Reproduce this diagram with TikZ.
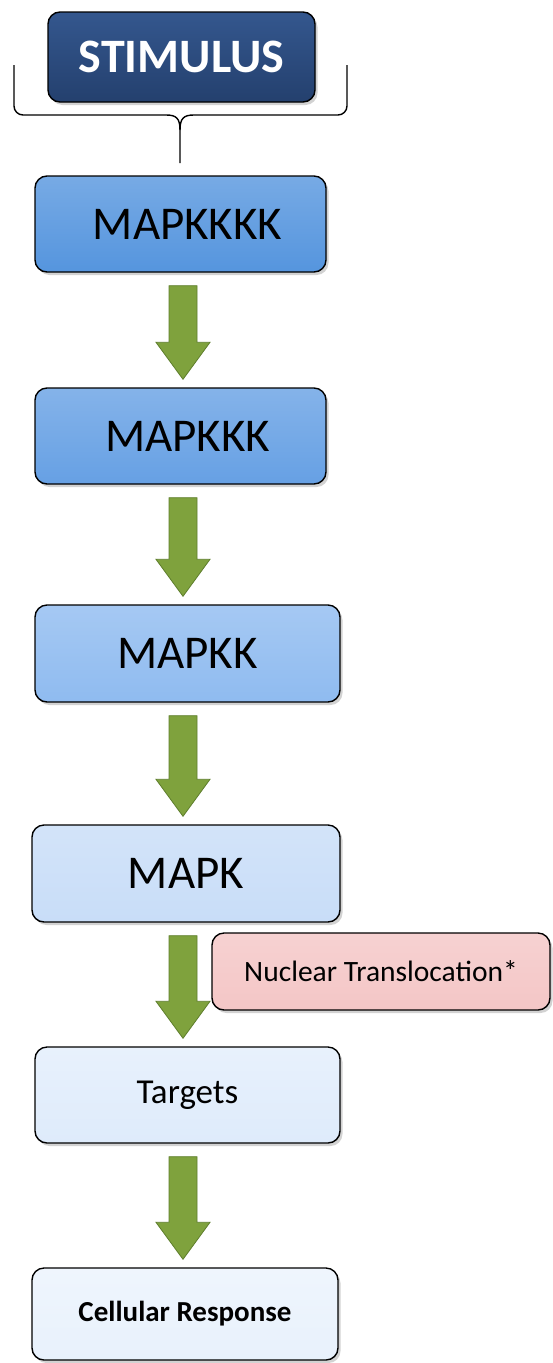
\documentclass[tikz,border=0pt]{standalone}
\usepackage{fontspec}
\setmainfont{Carlito}
\usetikzlibrary{shadows,calc}
\definecolor{stimc}{HTML}{24406E}
\definecolor{stimt}{HTML}{34578E}
\definecolor{kfour}{HTML}{5595DE}
\definecolor{kthree}{HTML}{66A0E4}
\definecolor{ktwo}{HTML}{8FBBF0}
\definecolor{kone}{HTML}{C8DDF8}
\definecolor{tgtc}{HTML}{DEEBFB}
\definecolor{cellc}{HTML}{E8F1FC}
\definecolor{nucc}{HTML}{F4C6C6}
\definecolor{arrc}{HTML}{7FA23D}
\definecolor{arrd}{HTML}{5E7E2C}
\tikzset{
  boxbase/.style={draw=black, line width=1.4pt, rounded corners=12pt,
    drop shadow={shadow xshift=2.5pt, shadow yshift=-3pt, opacity=0.35},
    inner sep=0pt, anchor=center},
  gbox/.style 2 args={boxbase, minimum width=#1, minimum height=#2},
  garrow/.style={fill=arrc, draw=arrd, line width=0.8pt, line join=miter},
  brace/.style={draw=black, line width=1.4pt},
}
\newcommand\blockarrow[2]{%
  \draw[garrow] let \p1=(#1.south), \p2=(#2.north) in
    (183pt-14pt,\y1-13pt) -- (183pt+14pt,\y1-13pt) -- (183pt+14pt,\y2+45pt)
    -- (183pt+27pt,\y2+45pt) -- (183pt,\y2+8pt) -- (183pt-27pt,\y2+45pt)
    -- (183pt-14pt,\y2+45pt) -- cycle;}
\begin{document}
\begin{tikzpicture}[x=1pt,y=-1pt]
\path[use as bounding box, fill=white] (0,0) rectangle (552,1363);

\node[gbox={267pt}{90pt}, top color=stimt, bottom color=stimc, text=white,
  font=\fontsize{48}{52}\selectfont\bfseries] (stim) at (181.5,57) {STIMULUS};

\node[gbox={291pt}{96pt}, top color=kfour!80!white, bottom color=kfour, font=\fontsize{47}{50}\selectfont] (k4) at (180.5,224) {\hspace*{14pt}MAPKKKK};
\node[gbox={291pt}{96pt}, top color=kthree!80!white, bottom color=kthree, font=\fontsize{47}{50}\selectfont] (k3) at (180.5,436) {\hspace*{14pt}MAPKKK};
\node[gbox={305pt}{97pt}, top color=ktwo!80!white, bottom color=ktwo, font=\fontsize{47}{50}\selectfont] (k2) at (187.5,653.5) {MAPKK};
\node[gbox={308pt}{97pt}, top color=kone!80!white, bottom color=kone, font=\fontsize{47}{50}\selectfont] (k1) at (186,873.5) {MAPK};
\node[gbox={338pt}{77pt}, top color=nucc!80!white, bottom color=nucc, font=\fontsize{29.5}{32}\selectfont] (nuc) at (381,971.5) {Nuclear Translocation*};
\node[gbox={305pt}{96pt}, top color=tgtc!70!white, bottom color=tgtc, font=\fontsize{35}{38}\selectfont] (tgt) at (187.5,1095) {Targets};
\node[gbox={306pt}{92pt}, top color=cellc!70!white, bottom color=cellc, font=\fontsize{29}{32}\selectfont\bfseries] (cell) at (185,1314) {Cellular Response};

% brace under stimulus
\coordinate (bl) at (14,65);
\coordinate (br) at (347,65);
\coordinate (tip) at (180,163);
\draw[brace] (bl) -- (14,106) to[out=-90,in=180] (23,115) -- (166,115)
  .. controls (176,115) and (180,118) .. (180,130) -- (tip);
\draw[brace] (br) -- (347,106) to[out=-90,in=0] (338,115) -- (194,115)
  .. controls (184,115) and (180,118) .. (180,130);

\blockarrow{k4}{k3}
\blockarrow{k3}{k2}
\blockarrow{k2}{k1}
\blockarrow{k1}{tgt}
\blockarrow{tgt}{cell}
\end{tikzpicture}
\end{document}
